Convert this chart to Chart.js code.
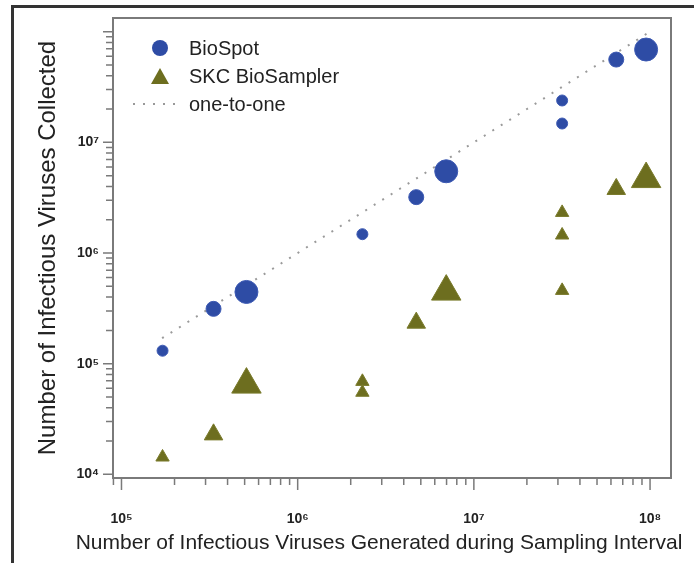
<!DOCTYPE html>
<html>
<head>
<meta charset="utf-8">
<script src="https://cdn.jsdelivr.net/npm/chart.js@4.4.1/dist/chart.umd.min.js"></script>
<style>
  html, body { margin: 0; padding: 0; background: #fff; }
  #wrap { position: relative; width: 694px; height: 563px; overflow: hidden; }
  #frame { position: absolute; left: 11px; top: 5px; width: 700px; height: 600px;
           border-top: 3px solid #333; border-left: 3px solid #333; pointer-events: none; }
  #legend { position: absolute; left: 130px; top: 36px; font: 20px "Liberation Sans", Arial, sans-serif; color: #222; }
  .row { position: relative; height: 28px; line-height: 24px; padding-left: 59px; }
  .mk { position: absolute; }
  .dot { left: 22px; top: 4px; width: 16px; height: 16px; border-radius: 50%; background: #2e4ca5; }
  .tri { left: 21px; top: 4px; width: 0; height: 0; border-left: 9px solid transparent;
         border-right: 9px solid transparent; border-bottom: 16px solid #6d6e1f; }
  .dash { left: 3px; top: 11px; width: 50px; height: 2px;
          background: repeating-linear-gradient(to right, #999 0 2px, transparent 2px 10px); }
</style>
</head>
<body>
<div id="wrap">
  <canvas id="myChart" width="694" height="563"></canvas>
  <div id="frame"></div>
  <div id="legend">
    <div class="row"><span class="mk dot"></span>BioSpot</div>
    <div class="row"><span class="mk tri"></span>SKC BioSampler</div>
    <div class="row"><span class="mk dash"></span>one-to-one</div>
  </div>
</div>
<script>
// viruses generated (x) / collected (y)
const bioSpotX = [1.71e5, 3.33e5, 5.12e5, 2.33e6, 4.71e6, 6.97e6, 3.17e7, 3.17e7, 6.43e7, 9.5e7];
const bioSpotY = [1.31e5, 3.13e5, 4.45e5, 1.48e6, 3.2e6, 5.48e6, 2.39e7, 1.48e7, 5.6e7, 6.9e7];
const bioSpotSize = ["S", "M", "L", "S", "M", "L", "S", "S", "M", "L"];

const skcX = [1.71e5, 3.33e5, 5.12e5, 2.33e6, 2.33e6, 4.71e6, 6.97e6, 3.17e7, 3.17e7, 3.17e7, 6.43e7, 9.5e7];
const skcY = [1.43e4, 2.29e4, 6.47e4, 6.9e4, 5.5e4, 2.34e5, 4.48e5, 2.32e6, 1.45e6, 4.58e5, 3.78e6, 4.66e6];
const skcSize = ["S", "M", "L", "S", "S", "M", "L", "S", "S", "S", "M", "L"];

const oneToOne = [1.7e5, 1e8];

const xTickValues = [1e5, 1e6, 1e7, 1e8];
const yTickValues = [1e4, 1e5, 1e6, 1e7];
const xTitle = "Number of Infectious Viruses Generated during Sampling Interval";
const yTitle = "Number of Infectious Viruses Collected";
const sup = { 4: "⁴", 5: "⁵", 6: "⁶", 7: "⁷", 8: "⁸" };

const circleR = { S: 5.5, M: 7.5, L: 11.5 };
const triR = { S: 7.7, M: 10.7, L: 17 };

function toPoints(xs, ys) {
  return xs.map((v, i) => ({ x: v, y: ys[i] }));
}
function powLabel(v) {
  return "10" + sup[Math.round(Math.log10(v))];
}

// minor/major tick marks outside the box, gray frame round the plot, x title
const logTicks = {
  id: "logTicks",
  afterDraw(chart) {
    const { ctx, chartArea: a, scales } = chart;
    ctx.save();
    ctx.strokeStyle = "#7a7a7a";
    ctx.lineWidth = 2;
    ctx.strokeRect(a.left, a.top, a.right - a.left, a.bottom - a.top);
    ctx.lineWidth = 1.5;
    ctx.beginPath();
    for (let e = 3; e <= 8; e++) {
      for (let m = 1; m <= 9; m++) {
        const v = m * Math.pow(10, e);
        const px = scales.x.getPixelForValue(v);
        if (px >= a.left - 0.5 && px <= a.right) {
          ctx.moveTo(px, a.bottom);
          ctx.lineTo(px, a.bottom + (m === 1 ? 12 : 7));
        }
        const py = scales.y.getPixelForValue(v);
        if (py >= a.top && py <= a.bottom + 0.5) {
          ctx.moveTo(a.left, py);
          ctx.lineTo(a.left - (m === 1 ? 10 : 7), py);
        }
      }
    }
    ctx.stroke();
    // x title sits a bit left of the axis centre in the original
    ctx.fillStyle = "#222";
    ctx.font = "21px 'Liberation Sans', Arial, sans-serif";
    ctx.textAlign = "center";
    ctx.textBaseline = "middle";
    ctx.fillText(xTitle, 379, 543);
    ctx.restore();
  },
};

Chart.defaults.font.family = "'Liberation Sans', Arial, sans-serif";
Chart.defaults.color = "#222";

const ctx = document.getElementById("myChart").getContext("2d");
window.chart = new Chart(ctx, {
  type: "scatter",
  data: {
    datasets: [
      {
        label: "BioSpot",
        data: toPoints(bioSpotX, bioSpotY),
        pointStyle: "circle",
        pointRadius: bioSpotSize.map((s) => circleR[s]),
        backgroundColor: "#2e4ca5",
        borderColor: "#3d5ab3",
        borderWidth: 1,
        order: 1,
      },
      {
        label: "SKC BioSampler",
        data: toPoints(skcX, skcY),
        pointStyle: "triangle",
        pointRadius: skcSize.map((s) => triR[s]),
        backgroundColor: "#6d6e1f",
        borderColor: "#7a7b2c",
        borderWidth: 1,
        order: 1,
      },
      {
        type: "line",
        label: "one-to-one",
        data: toPoints(oneToOne, oneToOne),
        borderColor: "#9a9a9a",
        borderWidth: 2,
        borderDash: [2, 8],
        pointRadius: 0,
        fill: false,
        order: 3,
      },
    ],
  },
  options: {
    responsive: false,
    animation: false,
    layout: { padding: { left: 20, top: 17, right: 23, bottom: 0 } },
    plugins: { legend: { display: false }, tooltip: { enabled: false } },
    scales: {
      x: {
        type: "logarithmic",
        min: 8.95e4,
        max: 1.315e8,
        afterFit: (s) => { s.height = 85; s.paddingLeft = 0; s.paddingRight = 0; },
        afterBuildTicks: (s) => { s.ticks = xTickValues.map((v) => ({ value: v })); },
        grid: { display: false, drawTicks: false },
        border: { display: false },
        ticks: {
          padding: 33,
          maxRotation: 0,
          autoSkip: false,
          font: { size: 14, weight: "bold" },
          callback: (v) => powLabel(v),
        },
        title: { display: false, text: xTitle },
      },
      y: {
        type: "logarithmic",
        min: 9.27e3,
        max: 1.33e8,
        afterFit: (s) => { s.width = 93; s.paddingTop = 0; s.paddingBottom = 0; },
        afterBuildTicks: (s) => { s.ticks = yTickValues.map((v) => ({ value: v })); },
        grid: { display: false, drawTicks: false },
        border: { display: false },
        ticks: {
          padding: 14,
          autoSkip: false,
          font: { size: 14, weight: "bold" },
          callback: (v) => powLabel(v),
        },
        title: {
          display: true,
          text: yTitle,
          font: { size: 24 },
          padding: { top: 14, bottom: 0 },
        },
      },
    },
  },
  plugins: [logTicks],
});
</script>
</body>
</html>
